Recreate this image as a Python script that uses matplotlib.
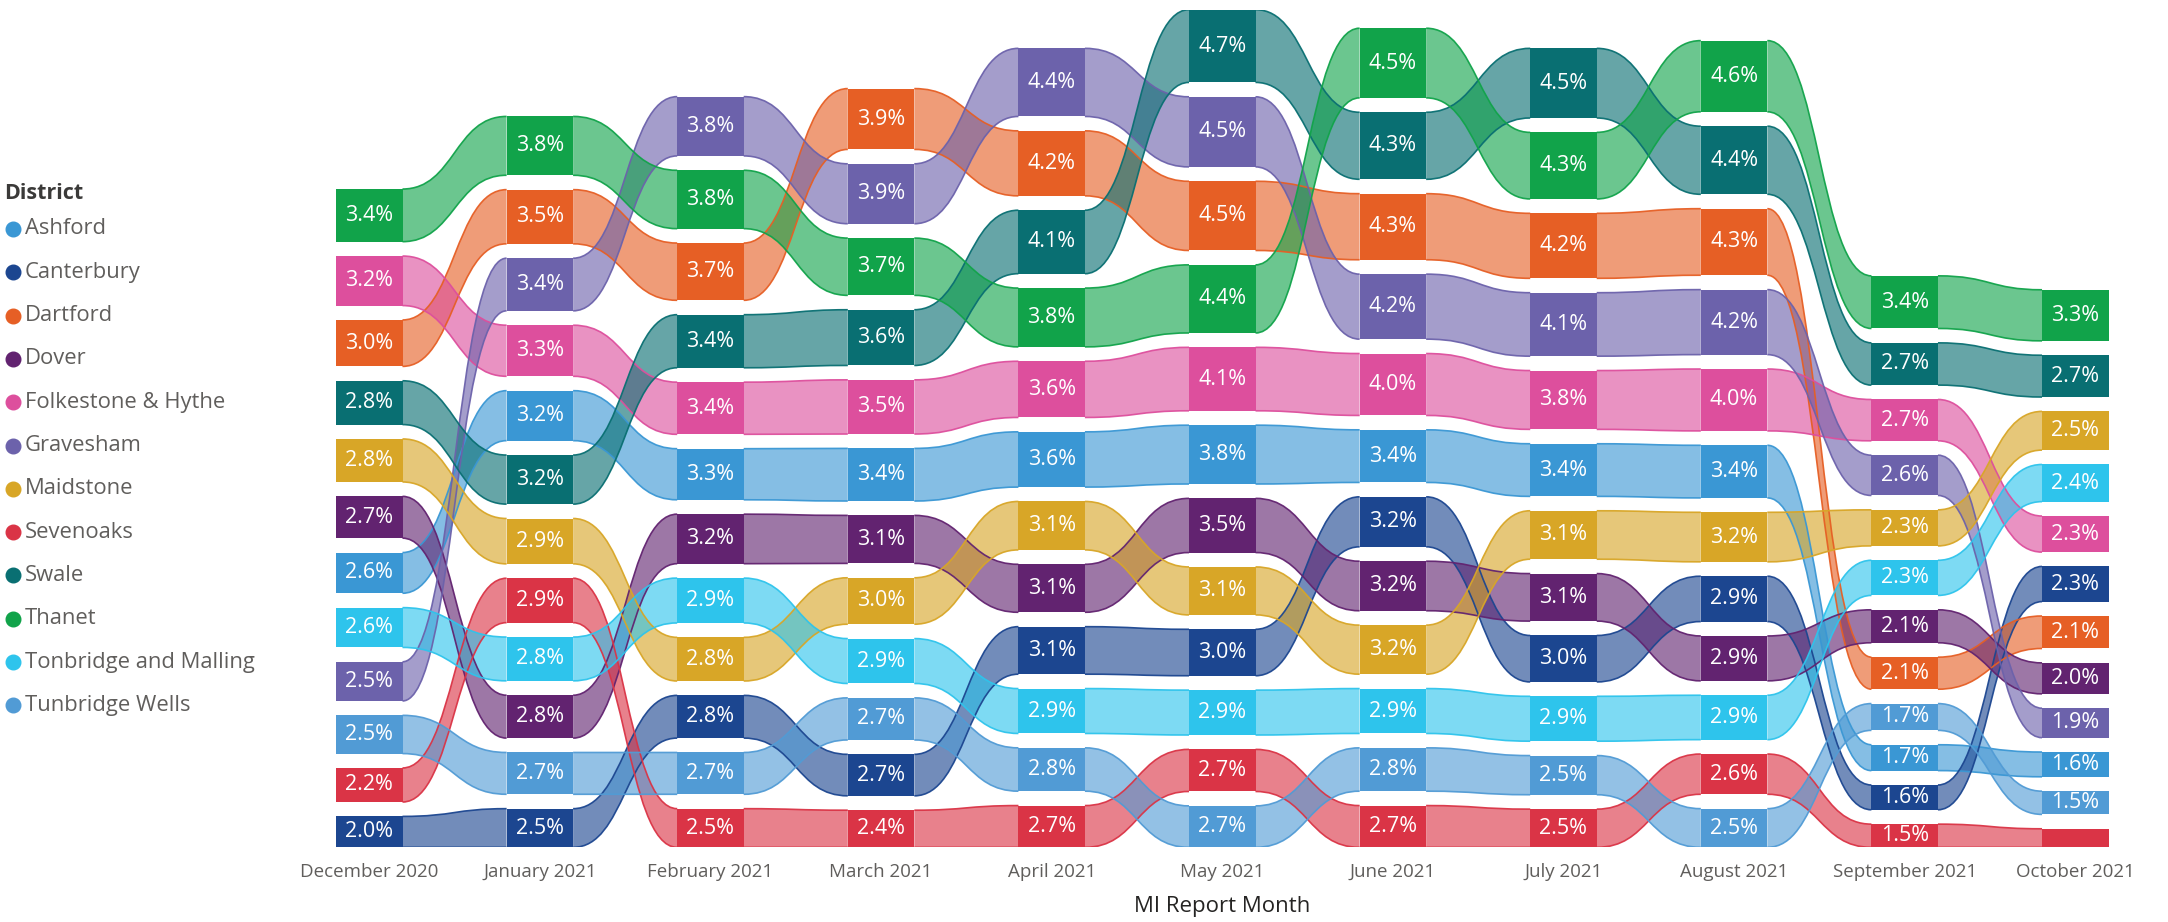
import numpy as np
import matplotlib.pyplot as plt
from matplotlib.path import Path
from matplotlib.patches import PathPatch

plt.rcParams['font.family'] = ['Open Sans', 'DejaVu Sans']

# Data (share of cases, %), two decimals where the picture only shows the order
months = ["December 2020", "January 2021", "February 2021", "March 2021", "April 2021",
          "May 2021", "June 2021", "July 2021", "August 2021", "September 2021", "October 2021"]

districts = ["Ashford", "Canterbury", "Dartford", "Dover", "Folkestone & Hythe", "Gravesham",
             "Maidstone", "Sevenoaks", "Swale", "Thanet", "Tonbridge and Malling", "Tunbridge Wells"]

colors = ["#3A97D4", "#1C4690", "#E65F25", "#622370", "#DD4F9D", "#6C62AB",
          "#D8A627", "#DA3446", "#096F72", "#11A34A", "#2EC4EC", "#519BD5"]

ashford     = [2.63, 3.23, 3.3, 3.4, 3.57, 3.8, 3.4, 3.4, 3.4, 1.67, 1.6]
canterbury  = [2.0, 2.5, 2.76, 2.68, 3.07, 3.0, 3.23, 3.0, 2.93, 1.6, 2.27]
dartford    = [3.0, 3.5, 3.7, 3.93, 4.2, 4.47, 4.27, 4.2, 4.3, 2.07, 2.1]
dover       = [2.7, 2.77, 3.2, 3.1, 3.1, 3.5, 3.2, 3.07, 2.9, 2.13, 2.0]
folkestone  = [3.2, 3.3, 3.37, 3.5, 3.63, 4.1, 4.0, 3.8, 4.0, 2.67, 2.33]
gravesham   = [2.53, 3.4, 3.83, 3.87, 4.4, 4.53, 4.2, 4.1, 4.2, 2.6, 1.9]
maidstone   = [2.78, 2.93, 2.82, 3.0, 3.13, 3.1, 3.17, 3.13, 3.2, 2.33, 2.5]
sevenoaks   = [2.2, 2.87, 2.5, 2.4, 2.7, 2.72, 2.7, 2.47, 2.6, 1.5, 1.2]
swale       = [2.83, 3.17, 3.43, 3.6, 4.1, 4.7, 4.33, 4.5, 4.4, 2.73, 2.7]
thanet      = [3.4, 3.8, 3.77, 3.7, 3.8, 4.4, 4.5, 4.3, 4.6, 3.4, 3.3]
tonbridge   = [2.57, 2.83, 2.9, 2.9, 2.9, 2.9, 2.9, 2.9, 2.87, 2.27, 2.4]
tunbridge_w = [2.47, 2.7, 2.7, 2.72, 2.8, 2.68, 2.8, 2.53, 2.5, 1.73, 1.5]

values = np.array([ashford, canterbury, dartford, dover, folkestone, gravesham,
                   maidstone, sevenoaks, swale, thanet, tonbridge, tunbridge_w])

gap = 0.93      # vertical gap between stacked segments (value units)
bar_w = 0.39    # column width (month units)

n_d, n_m = values.shape
bottoms = np.zeros_like(values)
for j in range(n_m):
    order = np.argsort(values[:, j])          # smallest at the bottom
    y = 0.0
    for i in order:
        bottoms[i, j] = y
        y += values[i, j] + gap
tops = bottoms + values

fig = plt.figure(figsize=(21.68, 9.22), dpi=100)
ax = fig.add_axes([0.15497, 0.08096, 0.81761, 0.90855])

# ribbons
for i in range(n_d):
    for j in range(n_m - 1):
        xl = j + bar_w / 2
        xr = j + 1 - bar_w / 2
        xm = (xl + xr) / 2
        t0, t1 = tops[i, j], tops[i, j + 1]
        b0, b1 = bottoms[i, j], bottoms[i, j + 1]
        verts = [(xl, b0), (xl, t0), (xm, t0), (xm, t1), (xr, t1),
                 (xr, b1), (xm, b1), (xm, b0), (xl, b0), (xl, b0)]
        codes = [Path.MOVETO, Path.LINETO, Path.CURVE4, Path.CURVE4, Path.CURVE4,
                 Path.LINETO, Path.CURVE4, Path.CURVE4, Path.CURVE4, Path.CLOSEPOLY]
        ax.add_patch(PathPatch(Path(verts, codes), facecolor=colors[i], alpha=0.62,
                               edgecolor="none", zorder=2))
        for (a, b) in [(t0, t1), (b0, b1)]:
            edge = Path([(xl, a), (xm, a), (xm, b), (xr, b)],
                        [Path.MOVETO, Path.CURVE4, Path.CURVE4, Path.CURVE4])
            ax.add_patch(PathPatch(edge, facecolor="none", edgecolor=colors[i],
                                   lw=1.2, alpha=0.95, zorder=3))

# columns
x = np.arange(n_m)
for i in range(n_d):
    ax.bar(x, values[i], width=bar_w, bottom=bottoms[i], color=colors[i],
           linewidth=0, zorder=4)
    for j in range(n_m):
        if values[i, j] >= 1.3:
            ax.text(x[j], bottoms[i, j] + values[i, j] / 2, f"{values[i, j]:.1f}%",
                    ha="center", va="center", color="white", fontsize=15.5, zorder=5)

ax.set_xlim(-bar_w / 2, n_m - 1 + bar_w / 2)
ax.set_ylim(0, tops.max())
ax.set_xticks(x)
ax.set_xticklabels(months, fontsize=13.5, color="#605E5C")
ax.tick_params(axis="x", length=0, pad=11)
ax.set_yticks([])
for s in ax.spines.values():
    s.set_visible(False)
ax.set_xlabel("MI Report Month", fontsize=16, color="#252423", labelpad=11)

# legend
fig.text(0.002, 1 - 193 / 922, "District", fontsize=15.5, fontweight="bold",
         color="#3B3A39", va="center", ha="left")
for k, name in enumerate(districts):
    yk = 1 - (229 + k * 43.3) / 922
    fig.lines.append(plt.Line2D([12.5 / 2168], [yk], marker="o", markersize=10.5,
                                color=colors[k], linestyle="none",
                                transform=fig.transFigure))
    fig.text(25 / 2168, yk, name, fontsize=15.8, color="#605E5C", va="center", ha="left")

fig.savefig("out.png", dpi=100)
